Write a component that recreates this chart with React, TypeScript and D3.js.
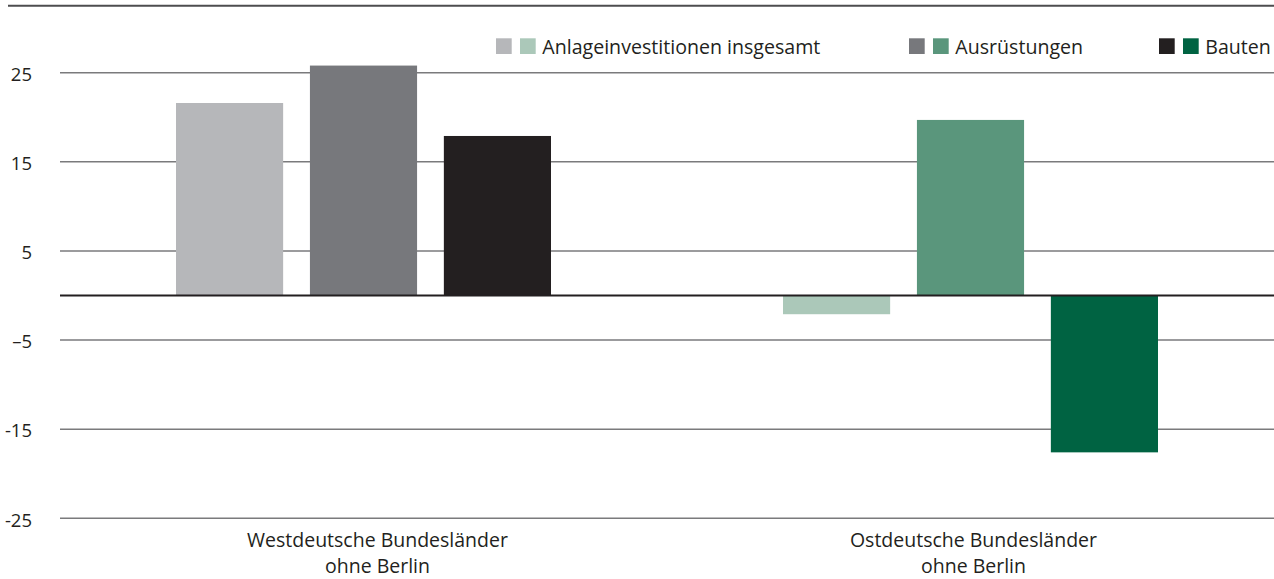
import React from "react";
import * as d3 from "d3";

const categories = ["Westdeutsche Bundesländer|ohne Berlin", "Ostdeutsche Bundesländer|ohne Berlin"];
const series = ["Anlageinvestitionen insgesamt", "Ausrüstungen", "Bauten"];
const westValues = [21.6, 25.8, 17.9];
const eastValues = [-2.1, 19.7, -17.6];
const westColors = ["#b6b7ba", "#77787c", "#231f20"];
const eastColors = ["#abc8b9", "#5a967c", "#006342"];
const tickValues = [25, 15, 5, -5, -15, -25];
const tickLabels = ["25", "15", "5", "\u20135", "-15", "-25"];

const W = 1274;
const H = 579;
const FONT = "'Open Sans', 'Noto Sans', sans-serif";

export default function App() {
  const y = d3.scaleLinear().domain([-25, 25]).range([518.3, 72.7]);
  const x0 = d3.scaleBand<string>().domain(categories).range([60, W]).padding(0);
  const groupWidth = 375;
  const valuesByCat = [westValues, eastValues];
  const colorsByCat = [westColors, eastColors];
  const legendX = [496, 909, 1159];

  return (
    <svg
      width={W}
      height={H}
      style={{ position: "absolute", left: 0, top: 0, background: "#fff" }}
      fontFamily={FONT}
    >
      <line x1={8} x2={W} y1={5.7} y2={5.7} stroke="#4d4d4f" strokeWidth={2} />
      {tickValues.map((v, i) => (
        <g key={v}>
          <line x1={60} x2={W} y1={y(v)} y2={y(v)} stroke="#7a7a7c" strokeWidth={1.4} />
          <text x={32} y={y(v) + 8.3} textAnchor="end" fontSize={18.5} fill="#231f20">
            {tickLabels[i]}
          </text>
        </g>
      ))}
      {categories.map((c, ci) => {
        const center = (x0(c) as number) + x0.bandwidth() / 2;
        const x1 = d3
          .scaleBand<string>()
          .domain(series)
          .range([center - groupWidth / 2, center + groupWidth / 2])
          .paddingInner(0.2)
          .paddingOuter(0);
        return (
          <g key={c}>
            {series.map((s, si) => {
              const v = valuesByCat[ci][si];
              return (
                <rect
                  key={s}
                  x={x1(s)}
                  width={x1.bandwidth()}
                  y={Math.min(y(v), y(0))}
                  height={Math.abs(y(v) - y(0))}
                  fill={colorsByCat[ci][si]}
                />
              );
            })}
            {c.split("|").map((line, li) => (
              <text
                key={li}
                x={center + (ci === 0 ? 14 : 3)}
                y={547 + li * 26}
                textAnchor="middle"
                fontSize={19.5}
                fill="#231f20"
              >
                {line}
              </text>
            ))}
          </g>
        );
      })}
      <line x1={60} x2={W} y1={y(0)} y2={y(0)} stroke="#231f20" strokeWidth={2} />
      {series.map((s, si) => (
        <g key={s} transform={`translate(${legendX[si]},0)`}>
          <rect x={0} y={38.3} width={15.7} height={15.7} fill={westColors[si]} />
          <rect x={24} y={38.3} width={15.7} height={15.7} fill={eastColors[si]} />
          <text x={46.3} y={54.3} fontSize={19.6} fill="#231f20">
            {s}
          </text>
        </g>
      ))}
    </svg>
  );
}
